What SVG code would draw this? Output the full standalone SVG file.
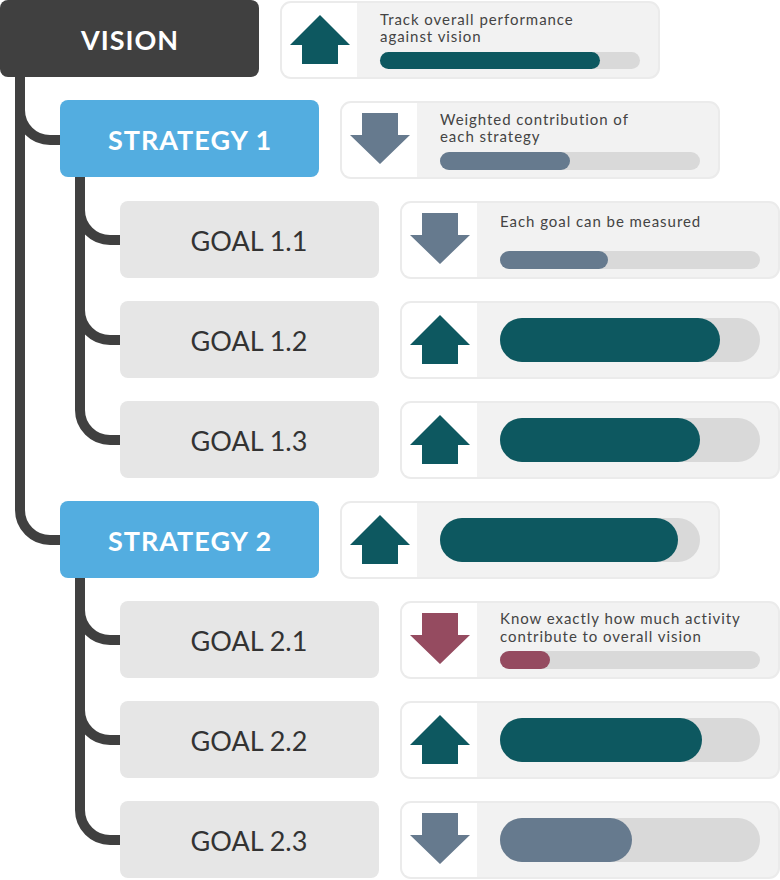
<svg xmlns="http://www.w3.org/2000/svg" width="780" height="880" viewBox="0 0 780 880">
<defs>
<style>
.conn{fill:none;stroke:#404040;stroke-width:10}
.vision{fill:#404040}
.strat{fill:#53ade0}
.goal{fill:#e6e6e6}
.ttl{font-family:Lato,"Open Sans",sans-serif;font-weight:700;font-size:27px;letter-spacing:1px;fill:#ffffff;text-anchor:middle}
.gtx{font-family:Lato,"Open Sans",sans-serif;font-weight:400;font-size:27px;fill:#333333;text-anchor:middle}
.card{fill:#f2f2f2;stroke:#ebebeb;stroke-width:2}
.cardl{fill:#ffffff}
.desc{font-family:Lato,"Open Sans",sans-serif;font-size:15px;letter-spacing:0.95px;fill:#444444}
.track{fill:#d9d9d9}
.teal{fill:#0d5860}
.slate{fill:#667a8e}
.maroon{fill:#954b60}
</style>
<path id="cardbg" d="M11 2 H369 A10 10 0 0 1 379 12 V68 A10 10 0 0 1 369 78 H11 A10 10 0 0 1 1 68 V12 A10 10 0 0 1 11 2 Z"/>
<path id="cardleft" d="M11 3 H77 V77 H11 A9 9 0 0 1 2 68 V12 A9 9 0 0 1 11 3 Z"/>
<polygon id="up" points="40,15 70,45 58,45 58,64 22,64 22,45 10,45"/>
<polygon id="down" points="22,13 58,13 58,35 70,35 40,64 10,35 22,35"/>
</defs>
<g id="connectors">
<path class="conn" d="M20 76 V510 A30 30 0 0 0 50 540 H62"/>
<path class="conn" d="M20 110 A30 30 0 0 0 50 140 H62"/>
<path class="conn" d="M80 176 V410 A30 30 0 0 0 110 440 H122"/>
<path class="conn" d="M80 210 A30 30 0 0 0 110 240 H122"/>
<path class="conn" d="M80 310 A30 30 0 0 0 110 340 H122"/>
<path class="conn" d="M80 577 V810 A30 30 0 0 0 110 840 H122"/>
<path class="conn" d="M80 610 A30 30 0 0 0 110 640 H122"/>
<path class="conn" d="M80 710 A30 30 0 0 0 110 740 H122"/>
</g>
<g id="vision">
<rect class="vision" x="0" y="0" width="259" height="77" rx="8"/>
<text class="ttl" x="130" y="50">VISION</text>
</g>
<g id="vision-card" transform="translate(280,0)">
<use href="#cardbg" class="card"/>
<use href="#cardleft" class="cardl"/>
<use href="#up" class="teal"/>
<text class="desc" x="100" y="24.5">Track overall performance</text>
<text class="desc" x="100" y="42">against vision</text>
<rect class="track" x="100" y="52" width="260" height="17" rx="8.5"/>
<rect class="teal" x="100" y="52" width="220" height="17" rx="8.5"/>
</g>
<g id="strategy1">
<rect class="strat" x="60" y="100" width="259" height="77" rx="8"/>
<text class="ttl" x="190" y="150">STRATEGY 1</text>
</g>
<g id="strategy1-card" transform="translate(340,100)">
<use href="#cardbg" class="card"/>
<use href="#cardleft" class="cardl"/>
<use href="#down" class="slate"/>
<text class="desc" x="100" y="24.5">Weighted contribution of</text>
<text class="desc" x="100" y="42">each strategy</text>
<rect class="track" x="100" y="52" width="260" height="18" rx="9"/>
<rect class="slate" x="100" y="52" width="130" height="18" rx="9"/>
</g>
<g id="goal11">
<rect class="goal" x="120" y="201" width="259" height="77" rx="8"/>
<text class="gtx" x="249" y="251">GOAL 1.1</text>
</g>
<g id="goal11-card" transform="translate(400,200)">
<use href="#cardbg" class="card"/>
<use href="#cardleft" class="cardl"/>
<use href="#down" class="slate"/>
<text class="desc" x="100" y="27">Each goal can be measured</text>
<rect class="track" x="100" y="51" width="260" height="18" rx="9"/>
<rect class="slate" x="100" y="51" width="108" height="18" rx="9"/>
</g>
<g id="goal12">
<rect class="goal" x="120" y="301" width="259" height="77" rx="8"/>
<text class="gtx" x="249" y="351">GOAL 1.2</text>
</g>
<g id="goal12-card" transform="translate(400,300)">
<use href="#cardbg" class="card"/>
<use href="#cardleft" class="cardl"/>
<use href="#up" class="teal"/>
<rect class="track" x="100" y="18" width="260" height="44" rx="22"/>
<rect class="teal" x="100" y="18" width="220" height="44" rx="22"/>
</g>
<g id="goal13">
<rect class="goal" x="120" y="401" width="259" height="77" rx="8"/>
<text class="gtx" x="249" y="451">GOAL 1.3</text>
</g>
<g id="goal13-card" transform="translate(400,400)">
<use href="#cardbg" class="card"/>
<use href="#cardleft" class="cardl"/>
<use href="#up" class="teal"/>
<rect class="track" x="100" y="18" width="260" height="44" rx="22"/>
<rect class="teal" x="100" y="18" width="200" height="44" rx="22"/>
</g>
<g id="strategy2">
<rect class="strat" x="60" y="501" width="259" height="77" rx="8"/>
<text class="ttl" x="190" y="551">STRATEGY 2</text>
</g>
<g id="strategy2-card" transform="translate(340,500)">
<use href="#cardbg" class="card"/>
<use href="#cardleft" class="cardl"/>
<use href="#up" class="teal"/>
<rect class="track" x="100" y="18" width="260" height="44" rx="22"/>
<rect class="teal" x="100" y="18" width="238" height="44" rx="22"/>
</g>
<g id="goal21">
<rect class="goal" x="120" y="601" width="259" height="77" rx="8"/>
<text class="gtx" x="249" y="651">GOAL 2.1</text>
</g>
<g id="goal21-card" transform="translate(400,600)">
<use href="#cardbg" class="card"/>
<use href="#cardleft" class="cardl"/>
<use href="#down" class="maroon"/>
<text class="desc" x="100" y="24">Know exactly how much activity</text>
<text class="desc" x="100" y="41.5">contribute to overall vision</text>
<rect class="track" x="100" y="51" width="260" height="18" rx="9"/>
<rect class="maroon" x="100" y="51" width="50" height="18" rx="9"/>
</g>
<g id="goal22">
<rect class="goal" x="120" y="701" width="259" height="77" rx="8"/>
<text class="gtx" x="249" y="751">GOAL 2.2</text>
</g>
<g id="goal22-card" transform="translate(400,700)">
<use href="#cardbg" class="card"/>
<use href="#cardleft" class="cardl"/>
<use href="#up" class="teal"/>
<rect class="track" x="100" y="18" width="260" height="44" rx="22"/>
<rect class="teal" x="100" y="18" width="202" height="44" rx="22"/>
</g>
<g id="goal23">
<rect class="goal" x="120" y="801" width="259" height="77" rx="8"/>
<text class="gtx" x="249" y="851">GOAL 2.3</text>
</g>
<g id="goal23-card" transform="translate(400,800)">
<use href="#cardbg" class="card"/>
<use href="#cardleft" class="cardl"/>
<use href="#down" class="slate"/>
<rect class="track" x="100" y="18" width="260" height="44" rx="22"/>
<rect class="slate" x="100" y="18" width="132" height="44" rx="22"/>
</g>
</svg>
